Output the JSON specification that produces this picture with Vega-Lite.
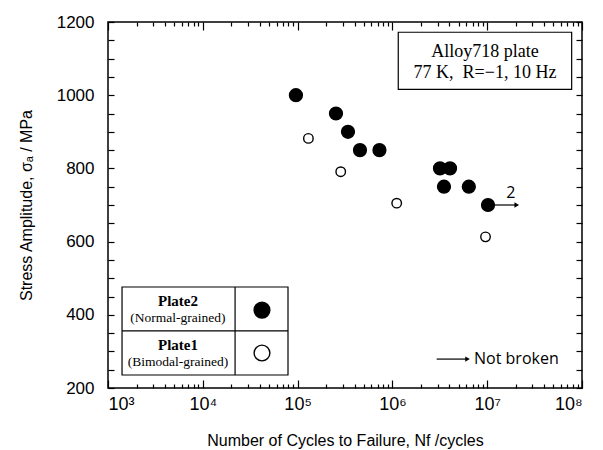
{
  "$schema": "https://vega.github.io/schema/vega-lite/v6.json",
  "width": 474,
  "height": 366,
  "autosize": {"type": "none"},
  "padding": {"left": 108, "top": 22, "right": 21, "bottom": 62},
  "background": "white",
  "config": {
    "view": {"stroke": "black", "strokeWidth": 1.5},
    "axis": {"grid": false, "domain": false, "tickColor": "black", "tickWidth": 1.2, "labelColor": "black", "titleColor": "black", "labelFont": "Liberation Sans", "titleFont": "Liberation Sans", "titleFontWeight": "normal"}
  },
  "datasets": {
    "points": [
      {"N": 96000, "S": 1000, "plate": "Plate2"},
      {"N": 254000, "S": 950, "plate": "Plate2"},
      {"N": 340000, "S": 900, "plate": "Plate2"},
      {"N": 455000, "S": 850, "plate": "Plate2"},
      {"N": 730000, "S": 850, "plate": "Plate2"},
      {"N": 3180000, "S": 800, "plate": "Plate2"},
      {"N": 4050000, "S": 800, "plate": "Plate2"},
      {"N": 3500000, "S": 750, "plate": "Plate2"},
      {"N": 6400000, "S": 750, "plate": "Plate2"},
      {"N": 10200000, "S": 700, "plate": "Plate2"},
      {"N": 130000, "S": 882, "plate": "Plate1"},
      {"N": 285000, "S": 791, "plate": "Plate1"},
      {"N": 1110000, "S": 705, "plate": "Plate1"},
      {"N": 9600000, "S": 613, "plate": "Plate1"}
    ],
    "legendBox": [{"x": 1406, "x2": 79200, "y": 235.5, "y2": 476}],
    "legendH": [{"x": 1406, "x2": 79200, "y": 356}],
    "legendV": [{"x": 21900, "y": 235.5, "y2": 476}],
    "infoBox": [{"x": 1153000, "x2": 77800000, "y": 1016, "y2": 1172}],
    "infoText": [
      {"x": 9480000, "y": 1119, "t": "Alloy718 plate"},
      {"x": 9480000, "y": 1060, "t": "77 K,\u00a0 R=−1, 10 Hz"}
    ],
    "arrows": [
      {"x": 10200000, "x2": 20500000, "y": 700},
      {"x": 2930000, "x2": 6200000, "y": 279}
    ],
    "heads": [
      {"x": 20500000, "y": 700},
      {"x": 6200000, "y": 279}
    ],
    "legendSymbols": [
      {"x": 42100, "y": 413, "plate": "Plate2"},
      {"x": 42100, "y": 295.6, "plate": "Plate1"}
    ],
    "legendBold": [
      {"x": 5470, "y": 437.7, "t": "Plate2"},
      {"x": 5470, "y": 317.5, "t": "Plate1"}
    ],
    "legendNormal": [
      {"x": 5470, "y": 391, "t": "(Normal-grained)"},
      {"x": 5470, "y": 271, "t": "(Bimodal-grained)"}
    ],
    "countText": [
      {"x": 17700000, "y": 734, "t": "2"}
    ],
    "noteText": [
      {"x": 7260000, "y": 279, "t": "Not broken"}
    ]
  },
  "resolve": {"axis": {"x": "independent", "y": "independent"}},
  "layer": [
    {
      "data": {"name": "legendBox"},
      "mark": {"type": "rect", "fill": "white", "stroke": "black", "strokeWidth": 1.2},
      "encoding": {
        "x": {"field": "x", "type": "quantitative", "scale": {"type": "log", "domain": [1000, 100000000], "nice": false},
          "axis": {"orient": "bottom", "values": [1000, 10000, 100000, 1000000, 10000000, 100000000], "tickSize": -8, "labelPadding": 15, "labelFontSize": 18,
            "labelExpr": "'10' + ['⁰','¹','²','³','⁴','⁵','⁶','⁷','⁸'][round(log(datum.value)/LN10)]",
            "title": "Number of Cycles to Failure, Nf /cycles", "titleFontSize": 16, "titlePadding": 19}},
        "x2": {"field": "x2"},
        "y": {"field": "y", "type": "quantitative", "scale": {"domain": [200, 1200], "nice": false},
          "axis": {"orient": "left", "values": [200, 250, 300, 350, 400, 450, 500, 550, 600, 650, 700, 750, 800, 850, 900, 950, 1000, 1050, 1100, 1150, 1200], "tickSize": -6, "labelPadding": 20, "labelFontSize": 17,
            "labelExpr": "datum.value % 200 == 0 ? datum.value : ''",
            "title": "Stress Amplitude, σₐ / MPa", "titleFontSize": 16, "titlePadding": 22}},
        "y2": {"field": "y2"}
      }
    },
    {
      "data": {"name": "legendH"},
      "mark": {"type": "rule", "stroke": "black", "strokeWidth": 1.2},
      "encoding": {
        "x": {"field": "x", "type": "quantitative", "scale": {"type": "log", "domain": [1000, 100000000], "nice": false},
          "axis": {"orient": "bottom", "values": [2000, 3000, 4000, 5000, 6000, 7000, 8000, 9000, 20000, 30000, 40000, 50000, 60000, 70000, 80000, 90000, 200000, 300000, 400000, 500000, 600000, 700000, 800000, 900000, 2000000, 3000000, 4000000, 5000000, 6000000, 7000000, 8000000, 9000000, 20000000, 30000000, 40000000, 50000000, 60000000, 70000000, 80000000, 90000000], "tickSize": -4, "labels": false, "title": null}},
        "x2": {"field": "x2"},
        "y": {"field": "y", "type": "quantitative", "scale": {"domain": [200, 1200], "nice": false},
          "axis": {"orient": "right", "values": [200, 250, 300, 350, 400, 450, 500, 550, 600, 650, 700, 750, 800, 850, 900, 950, 1000, 1050, 1100, 1150, 1200], "tickSize": -6, "labels": false, "title": null}}
      }
    },
    {
      "data": {"name": "legendV"},
      "mark": {"type": "rule", "stroke": "black", "strokeWidth": 1.2},
      "encoding": {
        "x": {"field": "x", "type": "quantitative", "scale": {"type": "log", "domain": [1000, 100000000], "nice": false},
          "axis": {"orient": "top", "values": [1000, 10000, 100000, 1000000, 10000000, 100000000], "tickSize": -8, "labels": false, "title": null}},
        "y": {"field": "y", "type": "quantitative", "scale": {"domain": [200, 1200], "nice": false}, "axis": null},
        "y2": {"field": "y2"}
      }
    },
    {
      "data": {"name": "infoBox"},
      "mark": {"type": "rect", "fill": "white", "stroke": "black", "strokeWidth": 1.2},
      "encoding": {
        "x": {"field": "x", "type": "quantitative", "scale": {"type": "log", "domain": [1000, 100000000], "nice": false},
          "axis": {"orient": "top", "values": [2000, 3000, 4000, 5000, 6000, 7000, 8000, 9000, 20000, 30000, 40000, 50000, 60000, 70000, 80000, 90000, 200000, 300000, 400000, 500000, 600000, 700000, 800000, 900000, 2000000, 3000000, 4000000, 5000000, 6000000, 7000000, 8000000, 9000000, 20000000, 30000000, 40000000, 50000000, 60000000, 70000000, 80000000, 90000000], "tickSize": -4, "labels": false, "title": null}},
        "x2": {"field": "x2"},
        "y": {"field": "y", "type": "quantitative", "scale": {"domain": [200, 1200], "nice": false}, "axis": null},
        "y2": {"field": "y2"}
      }
    },
    {
      "data": {"name": "infoText"},
      "mark": {"type": "text", "font": "Liberation Serif", "fontSize": 18, "align": "center", "baseline": "middle", "color": "black"},
      "encoding": {
        "x": {"field": "x", "type": "quantitative", "scale": {"type": "log", "domain": [1000, 100000000], "nice": false}, "axis": null},
        "y": {"field": "y", "type": "quantitative", "scale": {"domain": [200, 1200], "nice": false}, "axis": null},
        "text": {"field": "t"}
      }
    },
    {
      "data": {"name": "arrows"},
      "mark": {"type": "rule", "stroke": "black", "strokeWidth": 1.2},
      "encoding": {
        "x": {"field": "x", "type": "quantitative", "scale": {"type": "log", "domain": [1000, 100000000], "nice": false}, "axis": null},
        "x2": {"field": "x2"},
        "y": {"field": "y", "type": "quantitative", "scale": {"domain": [200, 1200], "nice": false}, "axis": null}
      }
    },
    {
      "data": {"name": "heads"},
      "mark": {"type": "point", "shape": "triangle-right", "filled": true, "color": "black", "size": 28, "opacity": 1},
      "encoding": {
        "x": {"field": "x", "type": "quantitative", "scale": {"type": "log", "domain": [1000, 100000000], "nice": false}, "axis": null},
        "y": {"field": "y", "type": "quantitative", "scale": {"domain": [200, 1200], "nice": false}, "axis": null}
      }
    },
    {
      "data": {"name": "points"},
      "mark": {"type": "point", "shape": "circle", "stroke": "black", "strokeWidth": 1.4, "opacity": 1},
      "encoding": {
        "x": {"field": "N", "type": "quantitative", "scale": {"type": "log", "domain": [1000, 100000000], "nice": false}, "axis": null},
        "y": {"field": "S", "type": "quantitative", "scale": {"domain": [200, 1200], "nice": false}, "axis": null},
        "fill": {"field": "plate", "type": "nominal", "scale": {"domain": ["Plate2", "Plate1"], "range": ["black", "white"]}, "legend": null},
        "size": {"field": "plate", "type": "nominal", "scale": {"domain": ["Plate2", "Plate1"], "range": [165, 90]}, "legend": null}
      }
    },
    {
      "data": {"name": "legendSymbols"},
      "mark": {"type": "point", "shape": "circle", "stroke": "black", "strokeWidth": 1.4, "opacity": 1, "size": 250},
      "encoding": {
        "x": {"field": "x", "type": "quantitative", "scale": {"type": "log", "domain": [1000, 100000000], "nice": false}, "axis": null},
        "y": {"field": "y", "type": "quantitative", "scale": {"domain": [200, 1200], "nice": false}, "axis": null},
        "fill": {"field": "plate", "type": "nominal", "scale": {"domain": ["Plate2", "Plate1"], "range": ["black", "white"]}, "legend": null}
      }
    },
    {
      "data": {"name": "legendBold"},
      "mark": {"type": "text", "font": "Liberation Serif", "fontSize": 15, "fontWeight": "bold", "align": "center", "baseline": "middle", "color": "black"},
      "encoding": {
        "x": {"field": "x", "type": "quantitative", "scale": {"type": "log", "domain": [1000, 100000000], "nice": false}, "axis": null},
        "y": {"field": "y", "type": "quantitative", "scale": {"domain": [200, 1200], "nice": false}, "axis": null},
        "text": {"field": "t"}
      }
    },
    {
      "data": {"name": "legendNormal"},
      "mark": {"type": "text", "font": "Liberation Serif", "fontSize": 13.5, "align": "center", "baseline": "middle", "color": "black"},
      "encoding": {
        "x": {"field": "x", "type": "quantitative", "scale": {"type": "log", "domain": [1000, 100000000], "nice": false}, "axis": null},
        "y": {"field": "y", "type": "quantitative", "scale": {"domain": [200, 1200], "nice": false}, "axis": null},
        "text": {"field": "t"}
      }
    },
    {
      "data": {"name": "countText"},
      "mark": {"type": "text", "font": "Open Sans", "fontSize": 16, "align": "center", "baseline": "middle", "color": "black"},
      "encoding": {
        "x": {"field": "x", "type": "quantitative", "scale": {"type": "log", "domain": [1000, 100000000], "nice": false}, "axis": null},
        "y": {"field": "y", "type": "quantitative", "scale": {"domain": [200, 1200], "nice": false}, "axis": null},
        "text": {"field": "t"}
      }
    },
    {
      "data": {"name": "noteText"},
      "mark": {"type": "text", "font": "Open Sans", "fontSize": 16, "align": "left", "baseline": "middle", "color": "black"},
      "encoding": {
        "x": {"field": "x", "type": "quantitative", "scale": {"type": "log", "domain": [1000, 100000000], "nice": false}, "axis": null},
        "y": {"field": "y", "type": "quantitative", "scale": {"domain": [200, 1200], "nice": false}, "axis": null},
        "text": {"field": "t"}
      }
    }
  ]
}
